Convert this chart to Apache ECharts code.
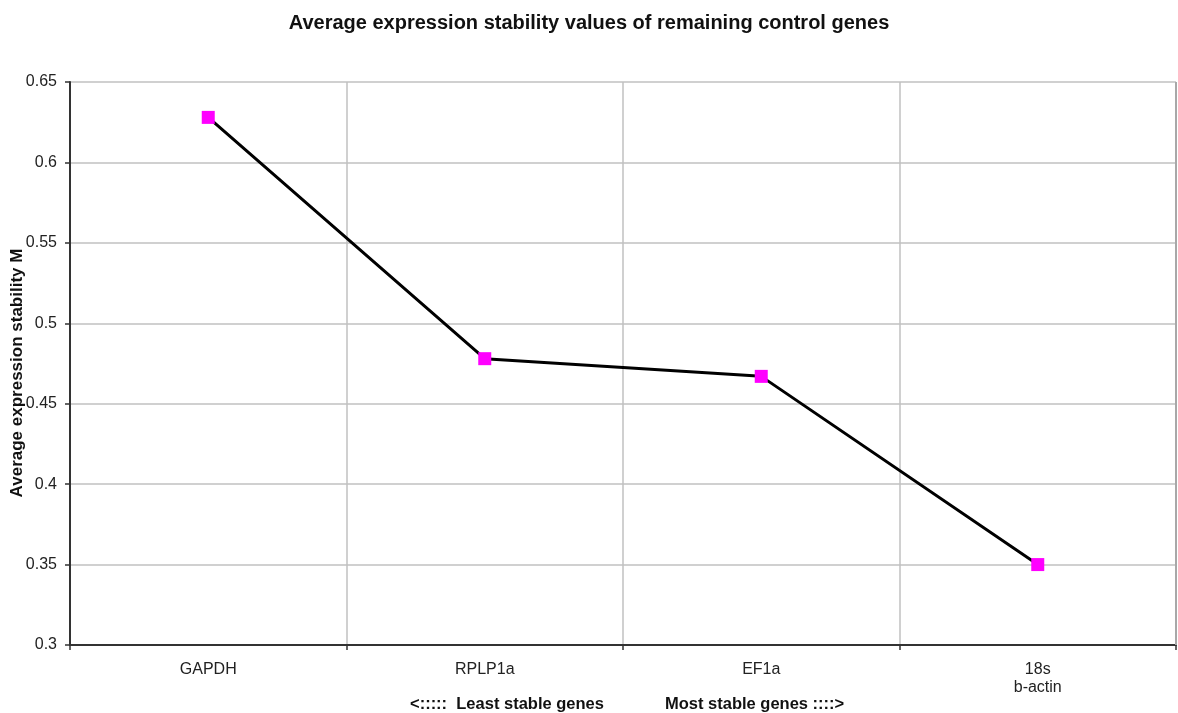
<!DOCTYPE html>
<html>
<head>
<meta charset="utf-8">
<script src="https://cdn.jsdelivr.net/npm/echarts@6/dist/echarts.min.js"></script>
<style>
  html, body { margin: 0; padding: 0; background: #fff; }
  #chart { width: 1178px; height: 713px; }
</style>
</head>
<body>
<div id="chart"></div>
<script>
// Genes ordered from least stable to most stable
var genes = ['GAPDH', 'RPLP1a', 'EF1a', '18s\nb-actin'];
// Average expression stability M for each remaining set
var stabilityM = [0.628, 0.478, 0.467, 0.35];
// Value axis range and step
var yMin = 0.3, yMax = 0.65, yStep = 0.05;

var chart = echarts.init(document.getElementById('chart'));
var font = 'Liberation Sans, Arial, sans-serif';

chart.setOption({
  animation: false,
  backgroundColor: '#ffffff',
  title: {
    text: 'Average expression stability values of remaining control genes',
    left: 'center',
    top: 8,
    textStyle: { fontFamily: font, fontSize: 20, fontWeight: 'bold', color: '#111' }
  },
  grid: { left: 70, right: 2, top: 82, bottom: 68, containLabel: false, show: false },
  xAxis: {
    type: 'category',
    data: genes,
    boundaryGap: true,
    axisLine: { show: true, lineStyle: { color: '#333', width: 2 } },
    axisTick: { show: true, alignWithLabel: false, length: 5, lineStyle: { color: '#333', width: 1.5 } },
    axisLabel: { fontFamily: font, fontSize: 16, color: '#222', margin: 16, lineHeight: 18 },
    splitLine: { show: true, lineStyle: { color: '#c0c0c0', width: 1.5 } }
  },
  yAxis: {
    type: 'value',
    min: yMin,
    max: yMax,
    interval: yStep,
    axisLine: { show: true, lineStyle: { color: '#333', width: 2 } },
    axisTick: { show: true, length: 5, lineStyle: { color: '#333', width: 1.5 } },
    axisLabel: { fontFamily: font, fontSize: 16, color: '#222', margin: 13,
                 formatter: function (v) { return String(+v.toFixed(2)); } },
    splitLine: { show: true, lineStyle: { color: '#c0c0c0', width: 1.5 } }
  },
  graphic: [
    { type: 'line', shape: { x1: 1176, y1: 82, x2: 1176, y2: 645 },
      style: { stroke: '#a8a8a8', lineWidth: 2 }, z: 5 },
    { type: 'text', x: 17, y: 373, rotation: Math.PI / 2,
      style: { text: 'Average expression stability M', font: 'bold 17px ' + font, fill: '#111',
               textAlign: 'center', textVerticalAlign: 'middle' } },
    { type: 'text', left: 410, top: 696,
      style: { text: '<:::::  Least stable genes', font: 'bold 16.5px ' + font, fill: '#111' } },
    { type: 'text', left: 665, top: 696,
      style: { text: 'Most stable genes ::::>', font: 'bold 16.5px ' + font, fill: '#111' } }
  ],
  series: [{
    type: 'line',
    data: stabilityM,
    symbol: 'rect',
    symbolSize: 13,
    lineStyle: { color: '#000', width: 3 },
    itemStyle: { color: '#ff00ff' },
    z: 10
  }]
});
</script>
</body>
</html>
